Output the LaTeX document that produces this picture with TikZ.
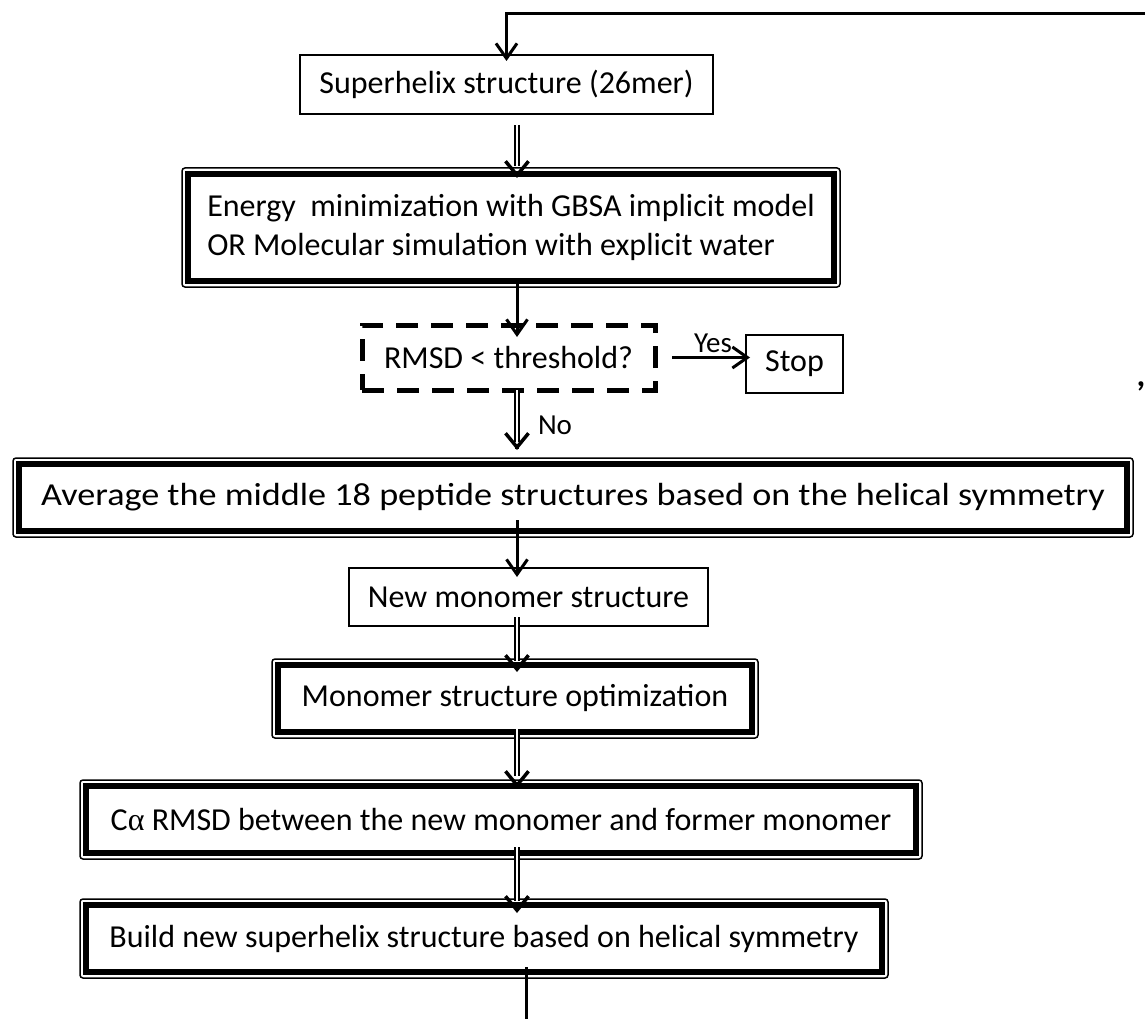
\documentclass[tikz,border=0pt]{standalone}
\usepackage{fontspec}
\usepackage{graphicx}
\setmainfont{Carlito}
\newfontfamily\grkfont{Liberation Serif}
\usetikzlibrary{arrows.meta}
\begin{document}
\begin{tikzpicture}[x=1pt,y=-1pt, font=\fontsize{32}{38.4}\selectfont,
  plainbox/.style={draw, line width=2pt, inner sep=0pt, outer sep=0pt},
  thickbox/.style={draw, line width=6pt, inner sep=0pt, outer sep=0pt},
  outerframe/.style={line width=1.5pt, rounded corners=3pt},
  dashbox/.style={draw, line width=5pt, dash pattern=on 22pt off 13pt, inner sep=0pt, outer sep=0pt},
  sarrow/.style={line width=3pt, -{Straight Barb[length=15pt,width=21pt]}},
  dshaft/.style={double, line width=1.5pt, double distance=2.5pt},
  dhead/.style={line width=3.5pt, -{Straight Barb[length=14pt,width=23pt]}},
  smalltext/.style={font=\fontsize{29}{34}\selectfont, inner sep=0pt}
]
\fill[white] (0,0) rectangle (1145,1019);
\useasboundingbox (0,0) rectangle (1145,1019);

% nodes
\node[plainbox, minimum width=413pt, minimum height=59pt] (box1) at (506.5,84.5) {Superhelix structure (26mer)};
\node[thickbox, minimum width=646pt, minimum height=107pt, align=left] (energy) at (511,227.5) {Energy~~minimization with GBSA implicit model\\OR Molecular simulation with explicit water};
\node[dashbox, minimum width=293pt, minimum height=65pt] (check) at (508.5,357.5) {RMSD < threshold?};
\node[plainbox, minimum width=97pt, minimum height=58pt] (stop) at (794.5,364) {Stop};
\node[thickbox, minimum width=1108pt, minimum height=67pt] (avg) at (573,497.5) {\scalebox{1.13}[1]{Average the middle 18 peptide structures based on the helical symmetry}};
\node[plainbox, minimum width=359pt, minimum height=58pt] (newmono) at (528.5,597) {New monomer structure};
\node[thickbox, minimum width=474pt, minimum height=67pt] (monoopt) at (515,698.5) {Monomer structure optimization};
\node[thickbox, minimum width=830pt, minimum height=67pt] (carmsd) at (501,819.5) {C{\grkfont α} RMSD between the new monomer and former monomer};
\node[thickbox, minimum width=796pt, minimum height=67pt] (build) at (484,938.5) {Build new superhelix structure based on helical symmetry};

\foreach \n in {energy,avg,monoopt,carmsd,build}
  \draw[outerframe] ([shift={(-6,-6)}]\n.north west) rectangle ([shift={(6,6)}]\n.south east);

% labels
\node[smalltext] (yes) at (713,343) {Yes};
\node[font=\fontsize{29}{34}\selectfont, inner sep=0pt] (no) at (555,425) {No};
\node[font=\fontsize{34}{40}\selectfont\bfseries, inner sep=0pt] (comma) at (1141,386) {,};

% coordinates
\coordinate (ax) at (517,0);
\coordinate (topright) at (1146,14);
\coordinate (bottom) at (526,1020);

% connectors
\draw[sarrow, shorten >=-6pt] (topright) -| (box1.north);

\draw[dshaft, shorten <=11pt, shorten >=8pt] (box1.south -| ax) -- (energy.north -| ax);
\draw[dhead, shorten >=-4pt] ([yshift=1pt]energy.north -| ax) -- (energy.north -| ax);

\draw[sarrow, shorten >=-12pt] (energy.south -| ax) -- (check.north -| ax);

\draw[sarrow, shorten <=17pt, shorten >=-4pt] (check.east) -- (check.east -| stop.west);

\draw[dshaft, shorten >=22pt] (check.south -| ax) -- (avg.north -| ax);
\draw[dhead] ([yshift=15pt]avg.north -| ax) -- ([yshift=14pt]avg.north -| ax);

\draw[sarrow, shorten <=-11pt, shorten >=-9pt] (avg.south -| ax) -- (newmono.north -| ax);

\draw[dshaft, shorten <=-9pt, shorten >=4pt] (newmono.south -| ax) -- (monoopt.north -| ax);
\draw[dhead, shorten >=-7pt] ([yshift=1pt]monoopt.north -| ax) -- (monoopt.north -| ax);

\draw[dshaft, shorten <=-3pt, shorten >=10pt] (monoopt.south -| ax) -- (carmsd.north -| ax);
\draw[dhead, shorten >=-2pt] ([yshift=1pt]carmsd.north -| ax) -- (carmsd.north -| ax);

\draw[dshaft, shorten <=-6pt, shorten >=4pt] (carmsd.south -| ax) -- (build.north -| ax);
\draw[dhead, shorten >=-8pt] ([yshift=1pt]build.north -| ax) -- (build.north -| ax);

\draw[line width=3pt, shorten <=-5pt] (build.south -| bottom) -- (bottom);
\end{tikzpicture}
\end{document}
